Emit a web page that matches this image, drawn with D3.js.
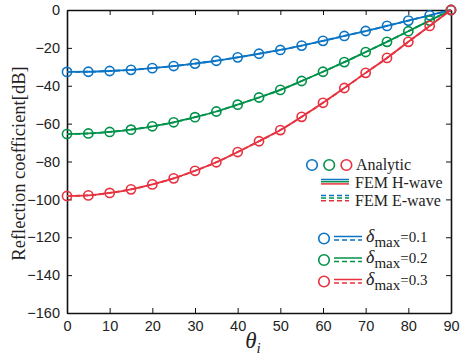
<!DOCTYPE html>
<html>
<head>
<meta charset="utf-8">
<script src="https://cdn.jsdelivr.net/npm/d3@7"></script>
<style>
  body { margin: 0; background: #fff; }
  svg { display: block; }
</style>
</head>
<body>
<div id="chart"></div>
<script>
// incidence angle (deg)
var theta = [0, 5, 10, 15, 20, 25, 30, 35, 40, 45, 50, 55, 60, 65, 70, 75, 80, 85, 90];

// reflection coefficient [dB]
var delta01 = [-32.7, -32.6, -32.2, -31.6, -30.7, -29.6, -28.3, -26.8, -25.0, -23.1, -21.1, -18.8, -16.3, -13.7, -11.1, -8.4, -5.6, -2.8, 0];
var delta02 = [-65.5, -65.2, -64.4, -63.2, -61.4, -59.3, -56.6, -53.6, -50.0, -46.2, -42.2, -37.5, -32.6, -27.5, -22.2, -16.8, -11.2, -5.6, 0];
var delta03 = [-98.2, -97.9, -96.6, -94.7, -92.1, -88.9, -84.9, -80.4, -75.0, -69.3, -63.4, -56.4, -49.0, -41.2, -33.2, -25.3, -16.8, -8.4, 0];

var xTicks = [0, 10, 20, 30, 40, 50, 60, 70, 80, 90];
var yTicks = [-160, -140, -120, -100, -80, -60, -40, -20, 0];

var seriesNames = ["0.1", "0.2", "0.3"];
var colors = ["#0b74c4", "#00924a", "#e8313f"];

var w = 460, h = 360;
var margin = { top: 10, right: 9, bottom: 47, left: 67 };
var iw = w - margin.left - margin.right;
var ih = h - margin.top - margin.bottom;

var svg = d3.select("#chart").append("svg")
    .attr("width", w)
    .attr("height", h);

var g = svg.append("g")
    .attr("transform", "translate(" + margin.left + "," + margin.top + ")");

var x = d3.scaleLinear().domain([0, 90]).range([0, iw]);
var y = d3.scaleLinear().domain([-160, 0]).range([ih, 0]);

// axes (ticks inside, box on)
function styleAxis(sel) {
    sel.selectAll(".domain").attr("stroke", "#111").attr("stroke-width", 1.6);
    sel.selectAll(".tick line").attr("stroke", "#111").attr("stroke-width", 1);
    sel.selectAll(".tick text")
        .attr("fill", "#222")
        .style("font-family", "'Liberation Sans', Arial, sans-serif")
        .style("font-size", "14.5px");
}

g.append("g")
    .attr("transform", "translate(0," + ih + ")")
    .call(d3.axisBottom(x).tickValues(xTicks).tickSize(-5).tickSizeOuter(0).tickPadding(8))
    .call(styleAxis);

g.append("g")
    .call(d3.axisLeft(y).tickValues(yTicks).tickSize(-5).tickSizeOuter(0).tickPadding(7))
    .call(styleAxis);

g.append("g")
    .call(d3.axisTop(x).tickValues(xTicks).tickSize(-5).tickSizeOuter(0).tickFormat(""))
    .call(styleAxis);

g.append("g")
    .attr("transform", "translate(" + iw + ",0)")
    .call(d3.axisRight(y).tickValues(yTicks).tickSize(-5).tickSizeOuter(0).tickFormat(""))
    .call(styleAxis);

// curves
var allSeries = [delta01, delta02, delta03];
var line = d3.line()
    .x(function (d, i) { return x(theta[i]); })
    .y(function (d) { return y(d); })
    .curve(d3.curveMonotoneX);

allSeries.forEach(function (vals, k) {
    // FEM H-wave (solid) and E-wave (dashed) lie on top of each other
    g.append("path")
        .datum(vals)
        .attr("fill", "none")
        .attr("stroke", colors[k])
        .attr("stroke-width", 1.8)
        .attr("d", line);
    g.append("path")
        .datum(vals)
        .attr("fill", "none")
        .attr("stroke", colors[k])
        .attr("stroke-width", 1.8)
        .attr("stroke-dasharray", "5,3")
        .attr("d", line);
    // analytic
    g.selectAll(".pt" + k)
        .data(vals)
        .enter()
        .append("circle")
        .attr("cx", function (d, i) { return x(theta[i]); })
        .attr("cy", function (d) { return y(d); })
        .attr("r", 4.6)
        .attr("fill", "none")
        .attr("stroke", colors[k])
        .attr("stroke-width", 1.6);
});

// axis labels
svg.append("text")
    .attr("transform", "translate(25," + (margin.top + ih / 2 + 2) + ") rotate(-90)")
    .attr("text-anchor", "middle")
    .style("font-family", "'Liberation Serif', 'Times New Roman', serif")
    .style("font-size", "18.5px")
    .attr("fill", "#222")
    .text("Reflection coefficient[dB]");

var xl = svg.append("text")
    .attr("x", margin.left + iw / 2 - 6)
    .attr("y", 348)
    .attr("text-anchor", "middle")
    .style("font-family", "'Liberation Serif', 'Times New Roman', serif")
    .style("font-style", "italic")
    .style("font-size", "23px")
    .attr("fill", "#222");
xl.append("tspan").text("θ");
xl.append("tspan").attr("dy", 5).style("font-size", "15px").text("i");

// legend
var leg = svg.append("g");
var serif = "'Liberation Serif', 'Times New Roman', serif";

// row: analytic
colors.forEach(function (c, k) {
    leg.append("circle")
        .attr("cx", 312 + k * 17.2).attr("cy", 165).attr("r", 5.3)
        .attr("fill", "none").attr("stroke", c).attr("stroke-width", 1.6);
});
leg.append("text").attr("x", 356).attr("y", 170)
    .style("font-family", serif).style("font-size", "16px").attr("fill", "#222")
    .text("Analytic");

// rows: FEM H-wave / E-wave
colors.forEach(function (c, k) {
    leg.append("line")
        .attr("x1", 321).attr("x2", 349)
        .attr("y1", 179.5 + k * 2.2).attr("y2", 179.5 + k * 2.2)
        .attr("stroke", c).attr("stroke-width", 1.5);
    leg.append("line")
        .attr("x1", 321).attr("x2", 349)
        .attr("y1", 195.5 + k * 2.6).attr("y2", 195.5 + k * 2.6)
        .attr("stroke", c).attr("stroke-width", 1.5)
        .attr("stroke-dasharray", "5,3");
});
leg.append("text").attr("x", 355).attr("y", 187.5)
    .style("font-family", serif).style("font-size", "16px").attr("fill", "#222")
    .text("FEM H-wave");
leg.append("text").attr("x", 355).attr("y", 205.5)
    .style("font-family", serif).style("font-size", "16px").attr("fill", "#222")
    .text("FEM E-wave");

// rows: delta_max
seriesNames.forEach(function (name, k) {
    var cy = 238.5 + k * 21.5;
    leg.append("circle")
        .attr("cx", 324).attr("cy", cy).attr("r", 5.3)
        .attr("fill", "none").attr("stroke", colors[k]).attr("stroke-width", 1.6);
    leg.append("line")
        .attr("x1", 334).attr("x2", 362).attr("y1", cy - 2).attr("y2", cy - 2)
        .attr("stroke", colors[k]).attr("stroke-width", 1.5);
    leg.append("line")
        .attr("x1", 334).attr("x2", 362).attr("y1", cy + 1.5).attr("y2", cy + 1.5)
        .attr("stroke", colors[k]).attr("stroke-width", 1.5)
        .attr("stroke-dasharray", "5,3");
    var t = leg.append("text").attr("x", 366).attr("y", cy + 3)
        .style("font-family", serif).attr("fill", "#222");
    t.append("tspan").style("font-style", "italic").style("font-size", "18px").text("δ");
    t.append("tspan").attr("dy", 5).style("font-size", "15px").text("max");
    t.append("tspan").attr("dy", -5).style("font-size", "15px").text("=" + name);
});
</script>
</body>
</html>
